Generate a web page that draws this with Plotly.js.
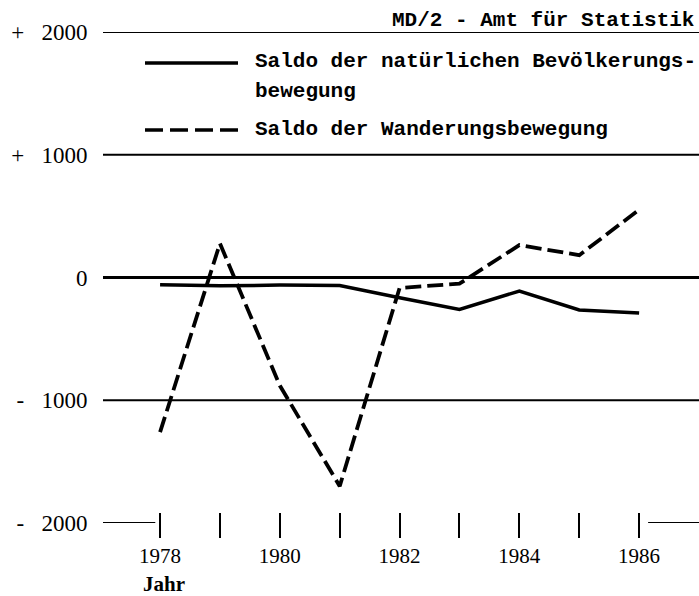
<!DOCTYPE html>
<html>
<head>
<meta charset="utf-8">
<script src="https://cdn.plot.ly/plotly-3.0.1.min.js"></script>
<style>
  html, body { margin: 0; padding: 0; background: #fff; }
  #chart { width: 699px; height: 596px; }
</style>
</head>
<body>
<div id="chart"></div>
<script>
// ---- data ----
const years = [1978, 1979, 1980, 1981, 1982, 1983, 1984, 1985, 1986];
const yearLabels = ['1978', '', '1980', '', '1982', '', '1984', '', '1986'];
const natSaldo = [-60, -68, -62, -65, -165, -260, -110, -265, -290];
const wanderSaldo = [-1260, 277, -880, -1700, -85, -50, 264, 182, 552];
const yTickVals = [-2000, -1000, 0, 1000, 2000];
const yTickText = ['-\u2002 2000', '-\u2002 1000', '0', '+\u2002 1000', '+\u2002 2000'];
const gridVals = [-1000, 1000, 2000];
const seriesNames = ['Saldo der natürlichen Bevölkerungs-', 'bewegung', 'Saldo der Wanderungsbewegung'];
const sourceText = 'MD/2 - Amt für Statistik';
const xTitle = 'Jahr';

const xRange = [1977.047, 1987.0];
const yRange = [-2000, 2000];

const mono = {family: 'Liberation Mono, monospace', size: 21, color: '#000', weight: 'bold'};
const serif = 'Liberation Serif, serif';

const traces = [
  {x: years, y: natSaldo, type: 'scatter', mode: 'lines', name: seriesNames[0],
   line: {color: '#000', width: 3.5}, showlegend: false, hoverinfo: 'skip'},
  {x: years, y: wanderSaldo, type: 'scatter', mode: 'lines', name: seriesNames[2],
   line: {color: '#000', width: 3.8, dash: '16px,6px'}, showlegend: false, hoverinfo: 'skip'}
];

// horizontal reference lines at the grid values, spanning the plot width
const gridShapes = gridVals.map(v => ({
  type: 'line', xref: 'paper', yref: 'y', x0: 0, x1: 1, y0: v, y1: v,
  layer: 'below', line: {color: '#000', width: 2}
}));

const layout = {
  width: 699, height: 596,
  margin: {l: 103, r: 0, t: 32, b: 73, pad: 0},
  paper_bgcolor: '#fff', plot_bgcolor: '#fff',
  showlegend: false,
  xaxis: {
    range: xRange, anchor: 'free', position: 11/491,
    tickmode: 'array', tickvals: years, ticktext: yearLabels,
    ticks: 'outside', ticklen: 25, tickwidth: 2, tickcolor: '#000',
    showgrid: false, zeroline: false, showline: false,
    tickfont: {family: serif, size: 21, color: '#000'},
    fixedrange: true
  },
  yaxis: {
    range: yRange,
    tickmode: 'array', tickvals: yTickVals, ticktext: yTickText,
    ticks: 'outside', ticklen: 10, tickcolor: 'rgba(0,0,0,0)',
    showgrid: false, showline: false,
    zeroline: true, zerolinecolor: '#000', zerolinewidth: 3,
    tickfont: {family: serif, size: 23, color: '#000'},
    fixedrange: true
  },
  shapes: gridShapes.concat([
    // -2000 base line segments (outside the year span)
    {type: 'line', xref: 'x', yref: 'y', x0: xRange[0] - 0.05, x1: years[0] - 0.08, y0: yRange[0], y1: yRange[0],
     line: {color: '#000', width: 2}},
    {type: 'line', xref: 'x', yref: 'y', x0: years[years.length - 1] + 0.15, x1: xRange[1], y0: yRange[0], y1: yRange[0],
     line: {color: '#000', width: 2}},
    // legend samples
    {type: 'line', xref: 'paper', yref: 'paper', x0: (145 - 103) / 596, x1: (238 - 103) / 596,
     y0: (523 - 63) / 491, y1: (523 - 63) / 491, line: {color: '#000', width: 3.5}},
    {type: 'line', xref: 'paper', yref: 'paper', x0: (145 - 103) / 596, x1: (238 - 103) / 596,
     y0: (523 - 130) / 491, y1: (523 - 130) / 491, line: {color: '#000', width: 3.5, dash: '18px,7px'}}
  ]),
  annotations: [
    {xref: 'paper', yref: 'paper', x: (253 - 103) / 596, y: (523 - 62) / 491, xanchor: 'left', yanchor: 'middle',
     text: seriesNames[0], showarrow: false, font: mono},
    {xref: 'paper', yref: 'paper', x: (253 - 103) / 596, y: (523 - 91) / 491, xanchor: 'left', yanchor: 'middle',
     text: seriesNames[1], showarrow: false, font: mono},
    {xref: 'paper', yref: 'paper', x: (253 - 103) / 596, y: (523 - 129) / 491, xanchor: 'left', yanchor: 'middle',
     text: seriesNames[2], showarrow: false, font: mono},
    {xref: 'paper', yref: 'paper', x: (696 - 103) / 596, y: (523 - 20) / 491, xanchor: 'right', yanchor: 'middle',
     text: sourceText, showarrow: false, font: mono},
    {xref: 'paper', yref: 'paper', x: (141 - 103) / 596, y: (523 - 584) / 491, xanchor: 'left', yanchor: 'middle',
     text: xTitle, showarrow: false, font: {family: serif, size: 21, color: '#000', weight: 'bold'}}
  ]
};

Plotly.newPlot('chart', traces, layout, {staticPlot: true, displayModeBar: false});
</script>
</body>
</html>
